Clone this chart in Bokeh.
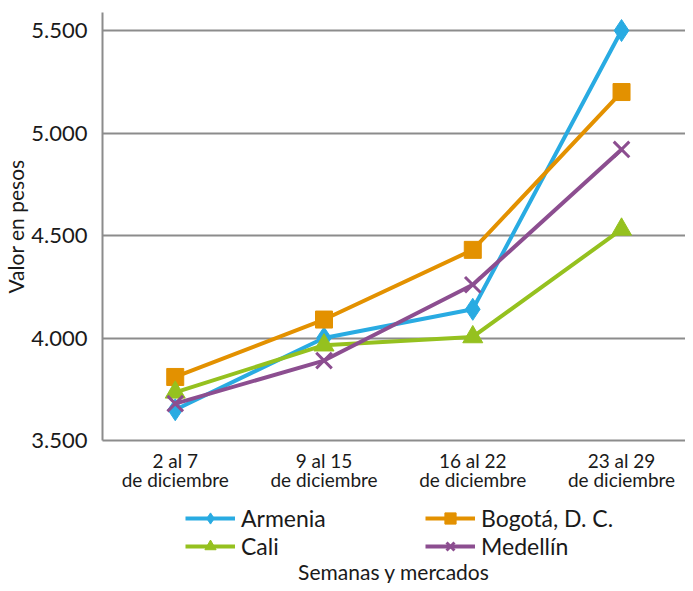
from bokeh.plotting import figure
from bokeh.layouts import column
from bokeh.models import (Legend, LegendItem, FixedTicker, Range1d, Label)
from bokeh.embed import file_html
from bokeh.resources import INLINE

weeks = ["2 al 7\nde diciembre", "9 al 15\nde diciembre", "16 al 22\nde diciembre", "23 al 29\nde diciembre"]
y_ticks = [3500, 4000, 4500, 5000, 5500]
y_tick_labels = ["3.500", "4.000", "4.500", "5.000", "5.500"]

armenia = [3650, 4000, 4140, 5500]
bogota = [3810, 4090, 4430, 5200]
cali = [3735, 3965, 4005, 4530]
medellin = [3680, 3890, 4260, 4920]

series = [
    ("Armenia", armenia, "#29ABE2", "diamond", 22),
    ("Bogotá, D. C.", bogota, "#E39100", "square", 17),
    ("Cali", cali, "#95C11F", "triangle", 20),
    ("Medellín", medellin, "#8C4E90", "x", 22),
]

FONT = "Lato"
GRAY = "#8c8c8c"
TXT = "#1a1a1a"

xs = list(range(len(weeks)))
X0, X1 = -0.489, 3.43


def draw(fig):
    out = {}
    for name, vals, color, marker, size in series:
        ln = fig.line(xs, vals, line_color=color, line_width=4)
        if marker == "x":
            sc = fig.scatter(xs, vals, marker=marker, size=size, line_color=color, line_width=3)
        else:
            sc = fig.scatter(xs, vals, marker=marker, size=size, fill_color=color, line_color=color)
        out[name] = [ln, sc]
    return out


p = figure(width=685, height=495, output_backend="svg", toolbar_location=None,
           x_range=Range1d(X0, X1), y_range=Range1d(3500, 5588),
           min_border_left=100, min_border_right=0, min_border_top=12, min_border_bottom=55)
p.outline_line_color = None

p.xaxis.ticker = FixedTicker(ticks=xs)
p.xaxis.major_label_overrides = {i: w for i, w in zip(xs, weeks)}
p.xaxis.major_tick_line_color = None
p.xaxis.minor_tick_line_color = None
p.xaxis.axis_line_color = GRAY
p.xaxis.axis_line_width = 2
p.xaxis.major_label_text_font = FONT
p.xaxis.major_label_text_font_size = "19px"
p.xaxis.major_label_text_color = TXT
p.xaxis.major_label_standoff = 2
p.xaxis.major_label_text_line_height = 0.85

p.yaxis.ticker = FixedTicker(ticks=y_ticks)
p.yaxis.major_label_overrides = {t: l for t, l in zip(y_ticks, y_tick_labels)}
p.yaxis.major_tick_line_color = None
p.yaxis.minor_tick_line_color = None
p.yaxis.axis_line_color = GRAY
p.yaxis.axis_line_width = 2
p.yaxis.major_label_text_font = FONT
p.yaxis.major_label_text_font_size = "22px"
p.yaxis.major_label_text_color = TXT
p.yaxis.major_label_standoff = 9
p.yaxis.axis_label = "Valor en pesos"
p.yaxis.axis_label_text_font = FONT
p.yaxis.axis_label_text_font_size = "21px"
p.yaxis.axis_label_text_font_style = "normal"
p.yaxis.axis_label_text_color = TXT
p.yaxis.axis_label_standoff = 0

p.xgrid.grid_line_color = None
p.ygrid.grid_line_color = GRAY
p.ygrid.grid_line_width = 2

draw(p)

# legend strip (series redrawn outside its visible range, only to feed the legend)
p2 = figure(width=685, height=88, output_backend="svg", toolbar_location=None,
            x_range=Range1d(X0, X1), y_range=Range1d(0, 1),
            x_axis_location=None, y_axis_location=None,
            min_border_left=100, min_border_right=0, min_border_top=0, min_border_bottom=0)
p2.outline_line_color = None
p2.xgrid.grid_line_color = None
p2.ygrid.grid_line_color = None
rs = draw(p2)

order = ["Armenia", "Cali", "Bogotá, D. C.", "Medellín"]
items = [LegendItem(label=n, renderers=rs[n]) for n in order]
legend = Legend(items=items, ncols=2, location=(83, 23), margin=0, padding=0,
                glyph_width=50, glyph_height=28, label_standoff=6, label_width=184,
                spacing=0, label_text_font=FONT, label_text_font_size="23px",
                label_text_color=TXT, border_line_color=None,
                background_fill_alpha=0)
p2.add_layout(legend, "center")

x_title = Label(x=(X0 + X1) / 2, y=12, y_units="screen", text="Semanas y mercados",
                text_align="center", text_baseline="alphabetic", text_font=FONT,
                text_font_size="21px", text_color=TXT)
p2.add_layout(x_title)

layout = column(p, p2, spacing=0)
open("out.html", "w").write(file_html(layout, INLINE))
